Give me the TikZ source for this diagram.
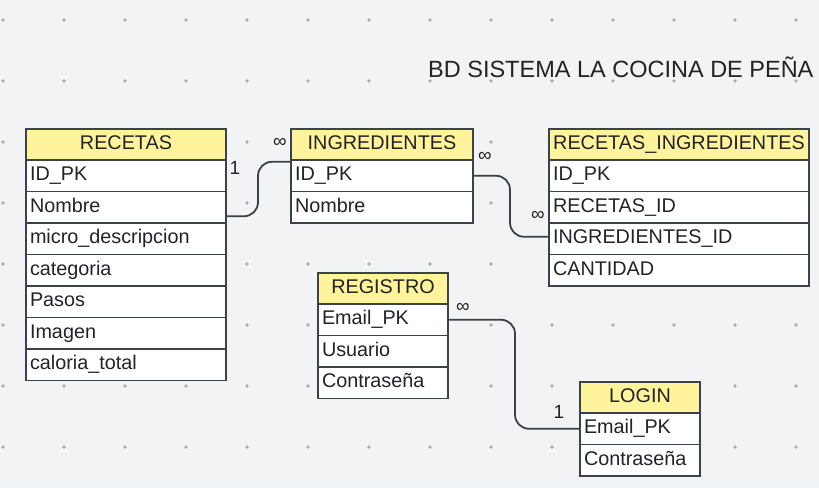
\documentclass[tikz,border=0pt]{standalone}
\usepackage{fontspec}
\setmainfont{Liberation Sans}
\definecolor{bgc}{HTML}{F2F3F5}
\definecolor{dotc}{HTML}{ABADB1}
\definecolor{linec}{HTML}{3C424A}
\definecolor{headc}{HTML}{FFF49C}
\definecolor{txtc}{HTML}{222326}
\newcommand\tabfont{\fontsize{19.8}{22}\selectfont}
\newcommand\lblfont{\fontsize{19}{20}\selectfont}
\begin{document}
\begin{tikzpicture}[x=1pt,y=-1pt,
  cell/.style={draw=linec, line width=1.8pt, fill=white, anchor=north west,
    inner xsep=4pt, inner ysep=0pt, outer sep=0pt, minimum height=31.5pt,
    text height=14pt, text depth=4pt, align=left, font=\tabfont, text=txtc},
  head/.style={cell, fill=headc, align=center, minimum height=31pt},
  conn/.style={draw=linec, line width=1.8pt, rounded corners=14pt},
  lbl/.style={font=\lblfont, text=txtc, inner sep=0pt}
]
\fill[bgc] (0,0) rectangle (819,488);
\useasboundingbox (0,0) rectangle (819,488);
\foreach \gx in {3,64,...,800} \foreach \gy in {20,81,...,450}
  \fill[dotc] (\gx,\gy) circle (1.8pt);

\node[font=\fontsize{23.5}{26}\selectfont, text=txtc, anchor=base west, inner sep=0pt] (title) at (428,77) {BD SISTEMA LA COCINA DE PEÑA};

% RECETAS
\node[head, text width=192pt] (rec0) at (26,129) {RECETAS};
\foreach \t [count=\i] in {ID\_PK,Nombre,micro\_descripcion,categoria,Pasos,Imagen,caloria\_total}
  \node[cell, text width=192pt] (rec\i) at (26,{160+(\i-1)*31.5}) {\t};

% INGREDIENTES
\node[head, text width=174pt] (ing0) at (291,129) {INGREDIENTES};
\foreach \t [count=\i] in {ID\_PK,Nombre}
  \node[cell, text width=174pt] (ing\i) at (291,{160+(\i-1)*31.5}) {\t};

% RECETAS_INGREDIENTES
\node[head, text width=252pt] (ri0) at (549,129) {RECETAS\_INGREDIENTES};
\foreach \t [count=\i] in {ID\_PK,RECETAS\_ID,INGREDIENTES\_ID,CANTIDAD}
  \node[cell, text width=252pt] (ri\i) at (549,{160+(\i-1)*31.5}) {\t};

% REGISTRO
\node[head, text width=122pt] (reg0) at (318,273) {REGISTRO};
\foreach \t [count=\i] in {Email\_PK,Usuario,Contraseña}
  \node[cell, text width=122pt] (reg\i) at (318,{304+(\i-1)*31.5}) {\t};

% LOGIN
\node[head, text width=112pt] (log0) at (580,382) {LOGIN};
\foreach \t [count=\i] in {Email\_PK,Contraseña}
  \node[cell, text width=112pt] (log\i) at (580,{413+(\i-1)*31.5}) {\t};

% connectors
\draw[conn] ([yshift=-9pt]rec2.east) -- ++(32,0) |- ([yshift=14pt]ing1.west);
\draw[conn] (ing1.east) -- ++(37,0) |- ([yshift=2pt]ri3.west);
\draw[conn] (reg1.east) -- ++(67,0) |- (log1.west);

% cardinality labels
\node[lbl] (l1) at (235,168) {1};
\node[lbl] (l2) at (280,143) {∞};
\node[lbl] (l3) at (485,157) {∞};
\node[lbl] (l4) at (538,216) {∞};
\node[lbl] (l5) at (463,308) {∞};
\node[lbl] (l6) at (559,412) {1};
\end{tikzpicture}
\end{document}
